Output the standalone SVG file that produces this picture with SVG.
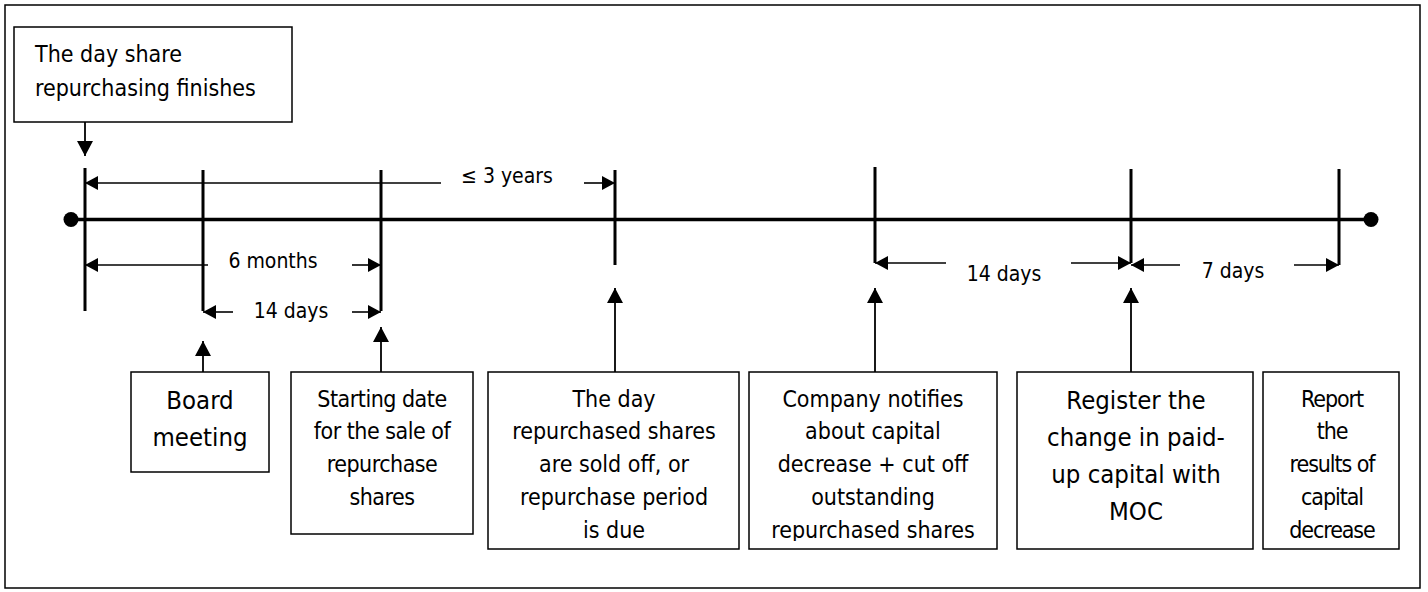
<svg xmlns="http://www.w3.org/2000/svg" width="1428" height="592" viewBox="0 0 1428 592">
  <defs>
    <style>
      text { font-family: "DejaVu Sans Condensed", "Liberation Sans", sans-serif; fill: #000; }
      .box { fill: #fff; stroke: #000; stroke-width: 1.5; }
      .frame { fill: #fff; stroke: #000; stroke-width: 1.5; }
      .t23 { font-size: 23px; }
      .t24 { font-size: 25.5px; }
      .lbl { font-size: 21px; }
      .mid { text-anchor: middle; }
      .narrow { letter-spacing: -0.5px; }
      .narrower { letter-spacing: -1.1px; }
      .axis { stroke: #000; stroke-width: 3.5; fill: none; }
      .tick { stroke: #000; stroke-width: 3; fill: none; }
      .dim { stroke: #000; stroke-width: 1.6; fill: none; marker-end: url(#dimHead); }
      .link { stroke: #000; stroke-width: 1.8; fill: none; marker-end: url(#linkHead); }
    </style>
    <marker id="dimHead" viewBox="0 0 13 14" refX="13" refY="7" markerWidth="13" markerHeight="14" markerUnits="userSpaceOnUse" orient="auto">
      <path d="M0,0 L13,7 L0,14 Z" fill="#000"/>
    </marker>
    <marker id="linkHead" viewBox="0 0 15 16" refX="15" refY="8" markerWidth="15" markerHeight="16" markerUnits="userSpaceOnUse" orient="auto">
      <path d="M0,0 L15,8 L0,16 Z" fill="#000"/>
    </marker>
    <clipPath id="clipDay"><rect x="488" y="372" width="251" height="169"/></clipPath>
    <clipPath id="clipNotify"><rect x="749" y="372" width="248" height="169"/></clipPath>
  </defs>

  <!-- outer frame -->
  <rect class="frame" x="5" y="5" width="1415" height="583"/>

  <!-- time axis with period ticks -->
  <g id="timeline">
    <path class="axis" d="M71,219.5 H1371"/>
    <circle cx="71" cy="219.5" r="7.5" fill="#000"/>
    <circle cx="1371" cy="219.5" r="7.5" fill="#000"/>
    <path class="tick" d="M85,168 V311 M203,170 V311 M381,170 V311 M615,170 V265 M875,167 V263 M1131,169 V263 M1339,169 V265"/>
  </g>

  <!-- period dimension arrows and connectors -->
  <g id="connectors">
    <path class="dim" d="M441,183 H85"/>
    <path class="dim" d="M584,183 H615"/>
    <path class="dim" d="M208,265 H85"/>
    <path class="dim" d="M352,265 H381"/>
    <path class="dim" d="M233,312 H203"/>
    <path class="dim" d="M352,312 H381"/>
    <path class="dim" d="M946,263 H875"/>
    <path class="dim" d="M1071,263 H1131"/>
    <path class="dim" d="M1180,265 H1131"/>
    <path class="dim" d="M1294,265 H1339"/>

    <path class="link" d="M85,122 V156"/>
    <path class="link" d="M203,372 V341"/>
    <path class="link" d="M381,372 V327"/>
    <path class="link" d="M615,372 V288"/>
    <path class="link" d="M875,372 V288"/>
    <path class="link" d="M1131,372 V288"/>
  </g>

  <!-- period labels -->
  <g id="labels" class="lbl">
    <text class="mid" x="507" y="183">≤ 3 years</text>
    <text class="mid" x="273" y="268">6 months</text>
    <text class="mid" x="291" y="318">14 days</text>
    <text class="mid" x="1004" y="281">14 days</text>
    <text class="mid" x="1233" y="278">7 days</text>
  </g>

  <g id="repurchase-end">
    <rect class="box" x="14" y="27" width="278" height="95"/>
    <text class="t23" x="35" y="62">The day share</text>
    <text class="t23" x="35" y="96">repurchasing finishes</text>
  </g>

  <g id="board-meeting">
    <rect class="box" x="131" y="372" width="138" height="100"/>
    <text class="t24 mid" x="200" y="409">Board</text>
    <text class="t24 mid" x="200" y="446">meeting</text>
  </g>

  <g id="sale-start">
    <rect class="box" x="291" y="372" width="182" height="162"/>
    <g class="t23 mid narrow">
      <text x="382" y="407">Starting date</text>
      <text x="382" y="439">for the sale of</text>
      <text x="382" y="472">repurchase</text>
      <text x="382" y="505">shares</text>
    </g>
  </g>

  <g id="sold-off">
    <rect class="box" x="488" y="372" width="251" height="177"/>
    <g class="t23 mid" clip-path="url(#clipDay)">
      <text x="614" y="407">The day</text>
      <text x="614" y="439">repurchased shares</text>
      <text x="614" y="472">are sold off, or</text>
      <text x="614" y="505">repurchase period</text>
      <text x="614" y="538">is due</text>
    </g>
  </g>

  <g id="notify-decrease">
    <rect class="box" x="749" y="372" width="248" height="177"/>
    <g class="t23 mid" clip-path="url(#clipNotify)">
      <text x="873" y="407">Company notifies</text>
      <text x="873" y="439">about capital</text>
      <text x="873" y="472">decrease + cut off</text>
      <text x="873" y="505">outstanding</text>
      <text x="873" y="538">repurchased shares</text>
    </g>
  </g>

  <g id="register-moc">
    <rect class="box" x="1017" y="372" width="236" height="177"/>
    <g class="t24 mid">
      <text x="1136" y="409">Register the</text>
      <text x="1136" y="446">change in paid-</text>
      <text x="1136" y="483">up capital with</text>
      <text x="1136" y="520">MOC</text>
    </g>
  </g>

  <g id="report-results">
    <rect class="box" x="1263" y="372" width="136" height="177"/>
    <g class="t23 mid narrower">
      <text x="1332" y="407">Report</text>
      <text x="1332" y="439">the</text>
      <text x="1332" y="472">results of</text>
      <text x="1332" y="505">capital</text>
      <text x="1332" y="538">decrease</text>
    </g>
  </g>
</svg>
